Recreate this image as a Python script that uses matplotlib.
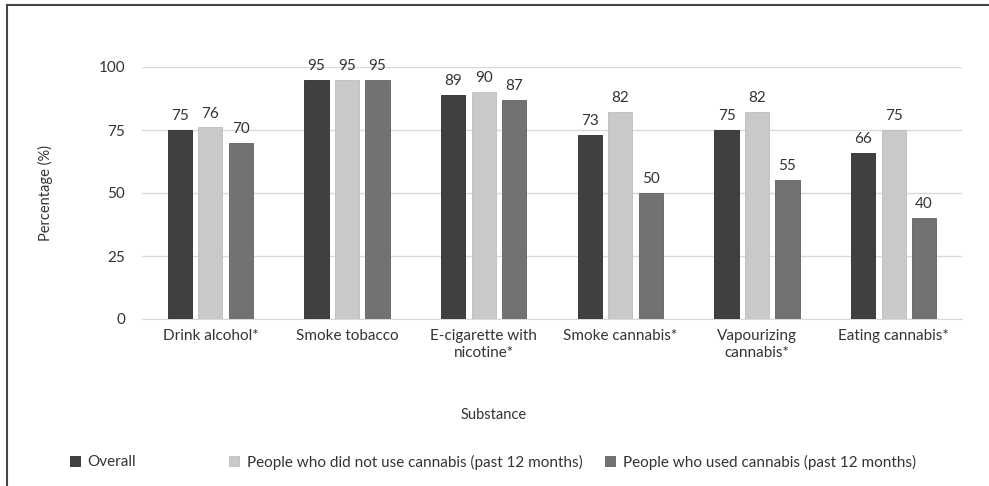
import numpy as np
import matplotlib.pyplot as plt
from matplotlib.lines import Line2D

plt.rcParams['font.family'] = ['Lato', 'DejaVu Sans']

# Data
substances = ['Drink alcohol*', 'Smoke tobacco', 'E-cigarette with\nnicotine*',
              'Smoke cannabis*', 'Vapourizing\ncannabis*', 'Eating cannabis*']
overall = [75, 95, 89, 73, 75, 66]
non_users = [76, 95, 90, 82, 82, 75]
users = [70, 95, 87, 50, 55, 40]
series_names = ['Overall',
                'People who did not use cannabis (past 12 months)',
                'People who used cannabis (past 12 months)']
colors = ['#404040', '#c9c9c9', '#727272']
edges = ['#2a2a2a', '#bdbdbd', '#606060']

W, H = 989, 486
fig = plt.figure(figsize=(W / 100, H / 100), dpi=100)
ax = fig.add_axes([142 / W, 1 - 319 / H, (962 - 142) / W, (319 - 67) / H])

x = np.arange(len(substances))
width = 0.176
offset = 0.223
text_col = '#333333'

bars = []
for i, (vals, c, ec) in enumerate(zip([overall, non_users, users], colors, edges)):
    b = ax.bar(x + (i - 1) * offset, vals, width, color=c, edgecolor=ec,
               linewidth=0.6, label=series_names[i], zorder=3)
    ax.bar_label(b, labels=[str(v) for v in vals], padding=5,
                 fontsize=11, color=text_col)
    bars.append(b)

ax.set_xlim(-0.5, len(substances) - 0.5)
ax.set_ylim(0, 100)
ax.set_yticks([0, 25, 50, 75, 100])
ax.yaxis.grid(True, color='#d9d9d9', linewidth=1, zorder=0)
ax.set_axisbelow(True)
for s in ['top', 'right', 'left']:
    ax.spines[s].set_visible(False)
ax.spines['bottom'].set_color('#d9d9d9')
ax.tick_params(axis='both', length=0, labelsize=11, labelcolor=text_col)
ax.tick_params(axis='y', pad=12)
ax.tick_params(axis='x', pad=7)
ax.set_xticks(x)
ax.set_xticklabels(substances, linespacing=1.3)

fig.text(45 / W, 1 - 193 / H, 'Percentage (%)', rotation=90, ha='center',
         va='center', fontsize=10.5, color=text_col)
fig.text(494 / W, 1 - 415 / H, 'Substance', ha='center', va='center',
         fontsize=10.5, color=text_col)

# legend entries placed individually along the bottom
for b, name, xpos in zip(bars, series_names, [70, 229, 605]):
    fig.legend([b], [name], loc='center left',
               bbox_to_anchor=(xpos / W, 1 - 462 / H), frameon=False,
               fontsize=11, handlelength=0.65, handleheight=0.65,
               handletextpad=0.5, labelcolor=text_col, borderpad=0,
               borderaxespad=0)

# outer frame (top and left edges)
fig.add_artist(Line2D([7 / W, 1], [1 - 5 / H, 1 - 5 / H], color='#444444',
                      linewidth=1.5, transform=fig.transFigure))
fig.add_artist(Line2D([7 / W, 7 / W], [0, 1 - 5 / H], color='#444444',
                      linewidth=1.5, transform=fig.transFigure))

fig.savefig('out.png', dpi=100)
